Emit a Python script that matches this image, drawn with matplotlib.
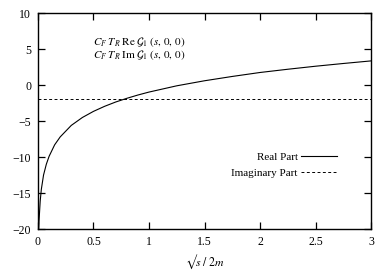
import matplotlib
matplotlib.use('Agg')
import matplotlib.pyplot as plt
from matplotlib.lines import Line2D

plt.rcParams['font.family'] = ['Liberation Serif', 'DejaVu Serif']
plt.rcParams['mathtext.fontset'] = 'stix'

# values
roots = [0.006, 0.01, 0.02, 0.03, 0.05, 0.075, 0.1, 0.15, 0.2, 0.3, 0.4, 0.5,
         0.6, 0.7, 0.8, 0.9, 1.0, 1.25, 1.5, 1.75, 2.0, 2.25, 2.5, 2.75, 3.0]
real_part = [-20, -18.7, -16.1, -14.5, -12.5, -11.0, -9.9, -8.3, -7.2, -5.6, -4.5, -3.65,
             -2.95, -2.35, -1.84, -1.38, -0.97, -0.1, 0.6, 1.2, 1.75, 2.2, 2.62, 3.0, 3.36]
imag_x = [0, 3]
imag_part = [-2, -2]

xticks = [0, 0.5, 1, 1.5, 2, 2.5, 3]
xticklabels = ['0', '0.5', '1', '1.5', '2', '2.5', '3']
yticks = [-20, -15, -10, -5, 0, 5, 10]

fig = plt.figure(figsize=(3.9, 2.73), dpi=100)
ax = fig.add_axes([0.0974, 0.161, 0.854, 0.791])

ax.plot(roots, real_part, color='black', lw=0.8)
ax.plot(imag_x, imag_part, color='black', lw=0.7, dashes=(3, 2.5))

ax.set_xlim(0, 3)
ax.set_ylim(-20, 10)
ax.set_xticks(xticks)
ax.set_xticklabels(xticklabels)
ax.set_yticks(yticks)
ax.tick_params(direction='in', length=5, width=0.9, labelsize=8.5,
               top=True, right=True, pad=5)
for sp in ax.spines.values():
    sp.set_linewidth(1.0)

ax.text(0.165, 0.866, r'$C_F\;T_R\;\mathrm{Re}\;\mathcal{G}_1\;(s,\,0,\,0)$',
        transform=ax.transAxes, fontsize=8, va='center', ha='left')
ax.text(0.165, 0.806, r'$C_F\;T_R\;\mathrm{Im}\;\mathcal{G}_1\;(s,\,0,\,0)$',
        transform=ax.transAxes, fontsize=8, va='center', ha='left')

handles = [Line2D([], [], color='black', lw=0.8),
           Line2D([], [], color='black', lw=0.7, dashes=(3, 2.5))]
ax.legend(handles, ['Real Part', 'Imaginary Part'], loc='center right',
          bbox_to_anchor=(0.898, 0.296), frameon=False, markerfirst=False,
          fontsize=8, handlelength=3.25, handletextpad=0.3, labelspacing=0.6,
          borderaxespad=0, borderpad=0)

fig.text(0.524, 0.04, '$\u221as\\;/\\;2m$', fontsize=8.5, ha='center', va='center')

fig.savefig('out.png', dpi=100)
